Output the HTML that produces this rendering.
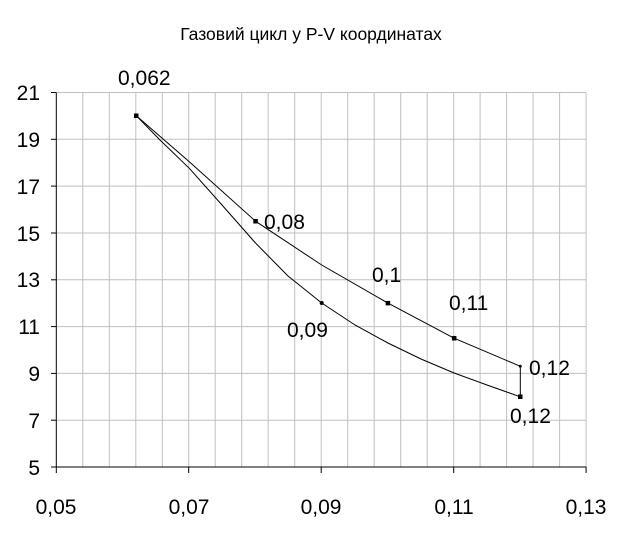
<!DOCTYPE html>
<html><head><meta charset="utf-8"><style>body{margin:0;background:#fff}svg{display:block}text{font-family:"Liberation Sans",sans-serif}</style></head><body>
<svg width="623" height="541" viewBox="0 0 623 541" xmlns="http://www.w3.org/2000/svg">
<text x="311" y="40" font-size="17.5" text-anchor="middle">Газовий цикл у P-V координатах</text>
<g stroke="#c0c0c0" stroke-width="1">
<line x1="56.3" x2="586.3" y1="92.5" y2="92.5"/>
<line x1="56.3" x2="586.3" y1="139.3" y2="139.3"/>
<line x1="56.3" x2="586.3" y1="186.1" y2="186.1"/>
<line x1="56.3" x2="586.3" y1="233" y2="233"/>
<line x1="56.3" x2="586.3" y1="279.8" y2="279.8"/>
<line x1="56.3" x2="586.3" y1="326.6" y2="326.6"/>
<line x1="56.3" x2="586.3" y1="373.4" y2="373.4"/>
<line x1="56.3" x2="586.3" y1="420.2" y2="420.2"/>
<line x1="82.8" x2="82.8" y1="92.5" y2="467"/><line x1="109.3" x2="109.3" y1="92.5" y2="467"/><line x1="135.8" x2="135.8" y1="92.5" y2="467"/><line x1="162.3" x2="162.3" y1="92.5" y2="467"/><line x1="188.7" x2="188.7" y1="92.5" y2="467"/><line x1="215.2" x2="215.2" y1="92.5" y2="467"/><line x1="241.7" x2="241.7" y1="92.5" y2="467"/><line x1="268.2" x2="268.2" y1="92.5" y2="467"/><line x1="294.7" x2="294.7" y1="92.5" y2="467"/><line x1="321.2" x2="321.2" y1="92.5" y2="467"/><line x1="347.7" x2="347.7" y1="92.5" y2="467"/><line x1="374.2" x2="374.2" y1="92.5" y2="467"/><line x1="400.7" x2="400.7" y1="92.5" y2="467"/><line x1="427.2" x2="427.2" y1="92.5" y2="467"/><line x1="453.7" x2="453.7" y1="92.5" y2="467"/><line x1="480.1" x2="480.1" y1="92.5" y2="467"/><line x1="506.6" x2="506.6" y1="92.5" y2="467"/><line x1="533.1" x2="533.1" y1="92.5" y2="467"/><line x1="559.6" x2="559.6" y1="92.5" y2="467"/><line x1="586.1" x2="586.1" y1="92.5" y2="467"/>
</g>
<g stroke="#000" stroke-width="1">
<line x1="56.3" x2="56.3" y1="92.5" y2="467"/>
<line x1="56.3" x2="586.3" y1="467" y2="467"/>
<line x1="51" x2="56.3" y1="92.5" y2="92.5"/><line x1="51" x2="56.3" y1="139.3" y2="139.3"/><line x1="51" x2="56.3" y1="186.1" y2="186.1"/><line x1="51" x2="56.3" y1="233" y2="233"/><line x1="51" x2="56.3" y1="279.8" y2="279.8"/><line x1="51" x2="56.3" y1="326.6" y2="326.6"/><line x1="51" x2="56.3" y1="373.4" y2="373.4"/><line x1="51" x2="56.3" y1="420.2" y2="420.2"/><line x1="51" x2="56.3" y1="467" y2="467"/>
<line x1="56.3" x2="56.3" y1="467" y2="473"/><line x1="188.7" x2="188.7" y1="467" y2="473"/><line x1="321.2" x2="321.2" y1="467" y2="473"/><line x1="453.7" x2="453.7" y1="467" y2="473"/><line x1="586.1" x2="586.1" y1="467" y2="473"/>
</g>
<g font-size="21" text-anchor="end">
<text x="40" y="100">21</text><text x="40" y="147">19</text><text x="40" y="194">17</text><text x="40" y="241">15</text><text x="40" y="287">13</text><text x="40" y="334">11</text><text x="40" y="381">9</text><text x="40" y="428">7</text><text x="40" y="475">5</text>
</g>
<g font-size="21" text-anchor="middle">
<text x="56" y="514">0,05</text><text x="189" y="514">0,07</text><text x="321" y="514">0,09</text><text x="454" y="514">0,11</text><text x="586" y="514">0,13</text>
</g>
<g fill="none" stroke="#000" stroke-width="1">
<polyline points="136.3,115.8 160,140 189.3,168.3 222,205 255.5,243 288,276 321.7,303 355,325 387.9,343 421,359 454.1,373 487,385 520.3,396.8"/>
<polyline points="136.3,115.8 189.3,161.7 255.5,221.2 321.7,265 387.9,303.1 454.1,338.2 520.3,366.3 520.3,396.8"/>
</g>
<g fill="#000">
<rect x="134" y="113.5" width="4.5" height="4.5"/><rect x="253.3" y="219" width="4.5" height="4.5"/><rect x="385.7" y="300.9" width="4.5" height="4.5"/><rect x="451.9" y="336" width="4.5" height="4.5"/><rect x="518" y="394.5" width="4.5" height="4.5"/>
<circle cx="321.7" cy="303" r="2"/><circle cx="520.3" cy="366.3" r="1.5"/>
</g>
<g font-size="21">
<text x="118" y="85">0,062</text><text x="264" y="229">0,08</text><text x="372" y="282">0,1</text><text x="449" y="310">0,11</text><text x="529" y="375">0,12</text><text x="510" y="423">0,12</text><text x="287" y="337">0,09</text>
</g>
</svg>
</body></html>
